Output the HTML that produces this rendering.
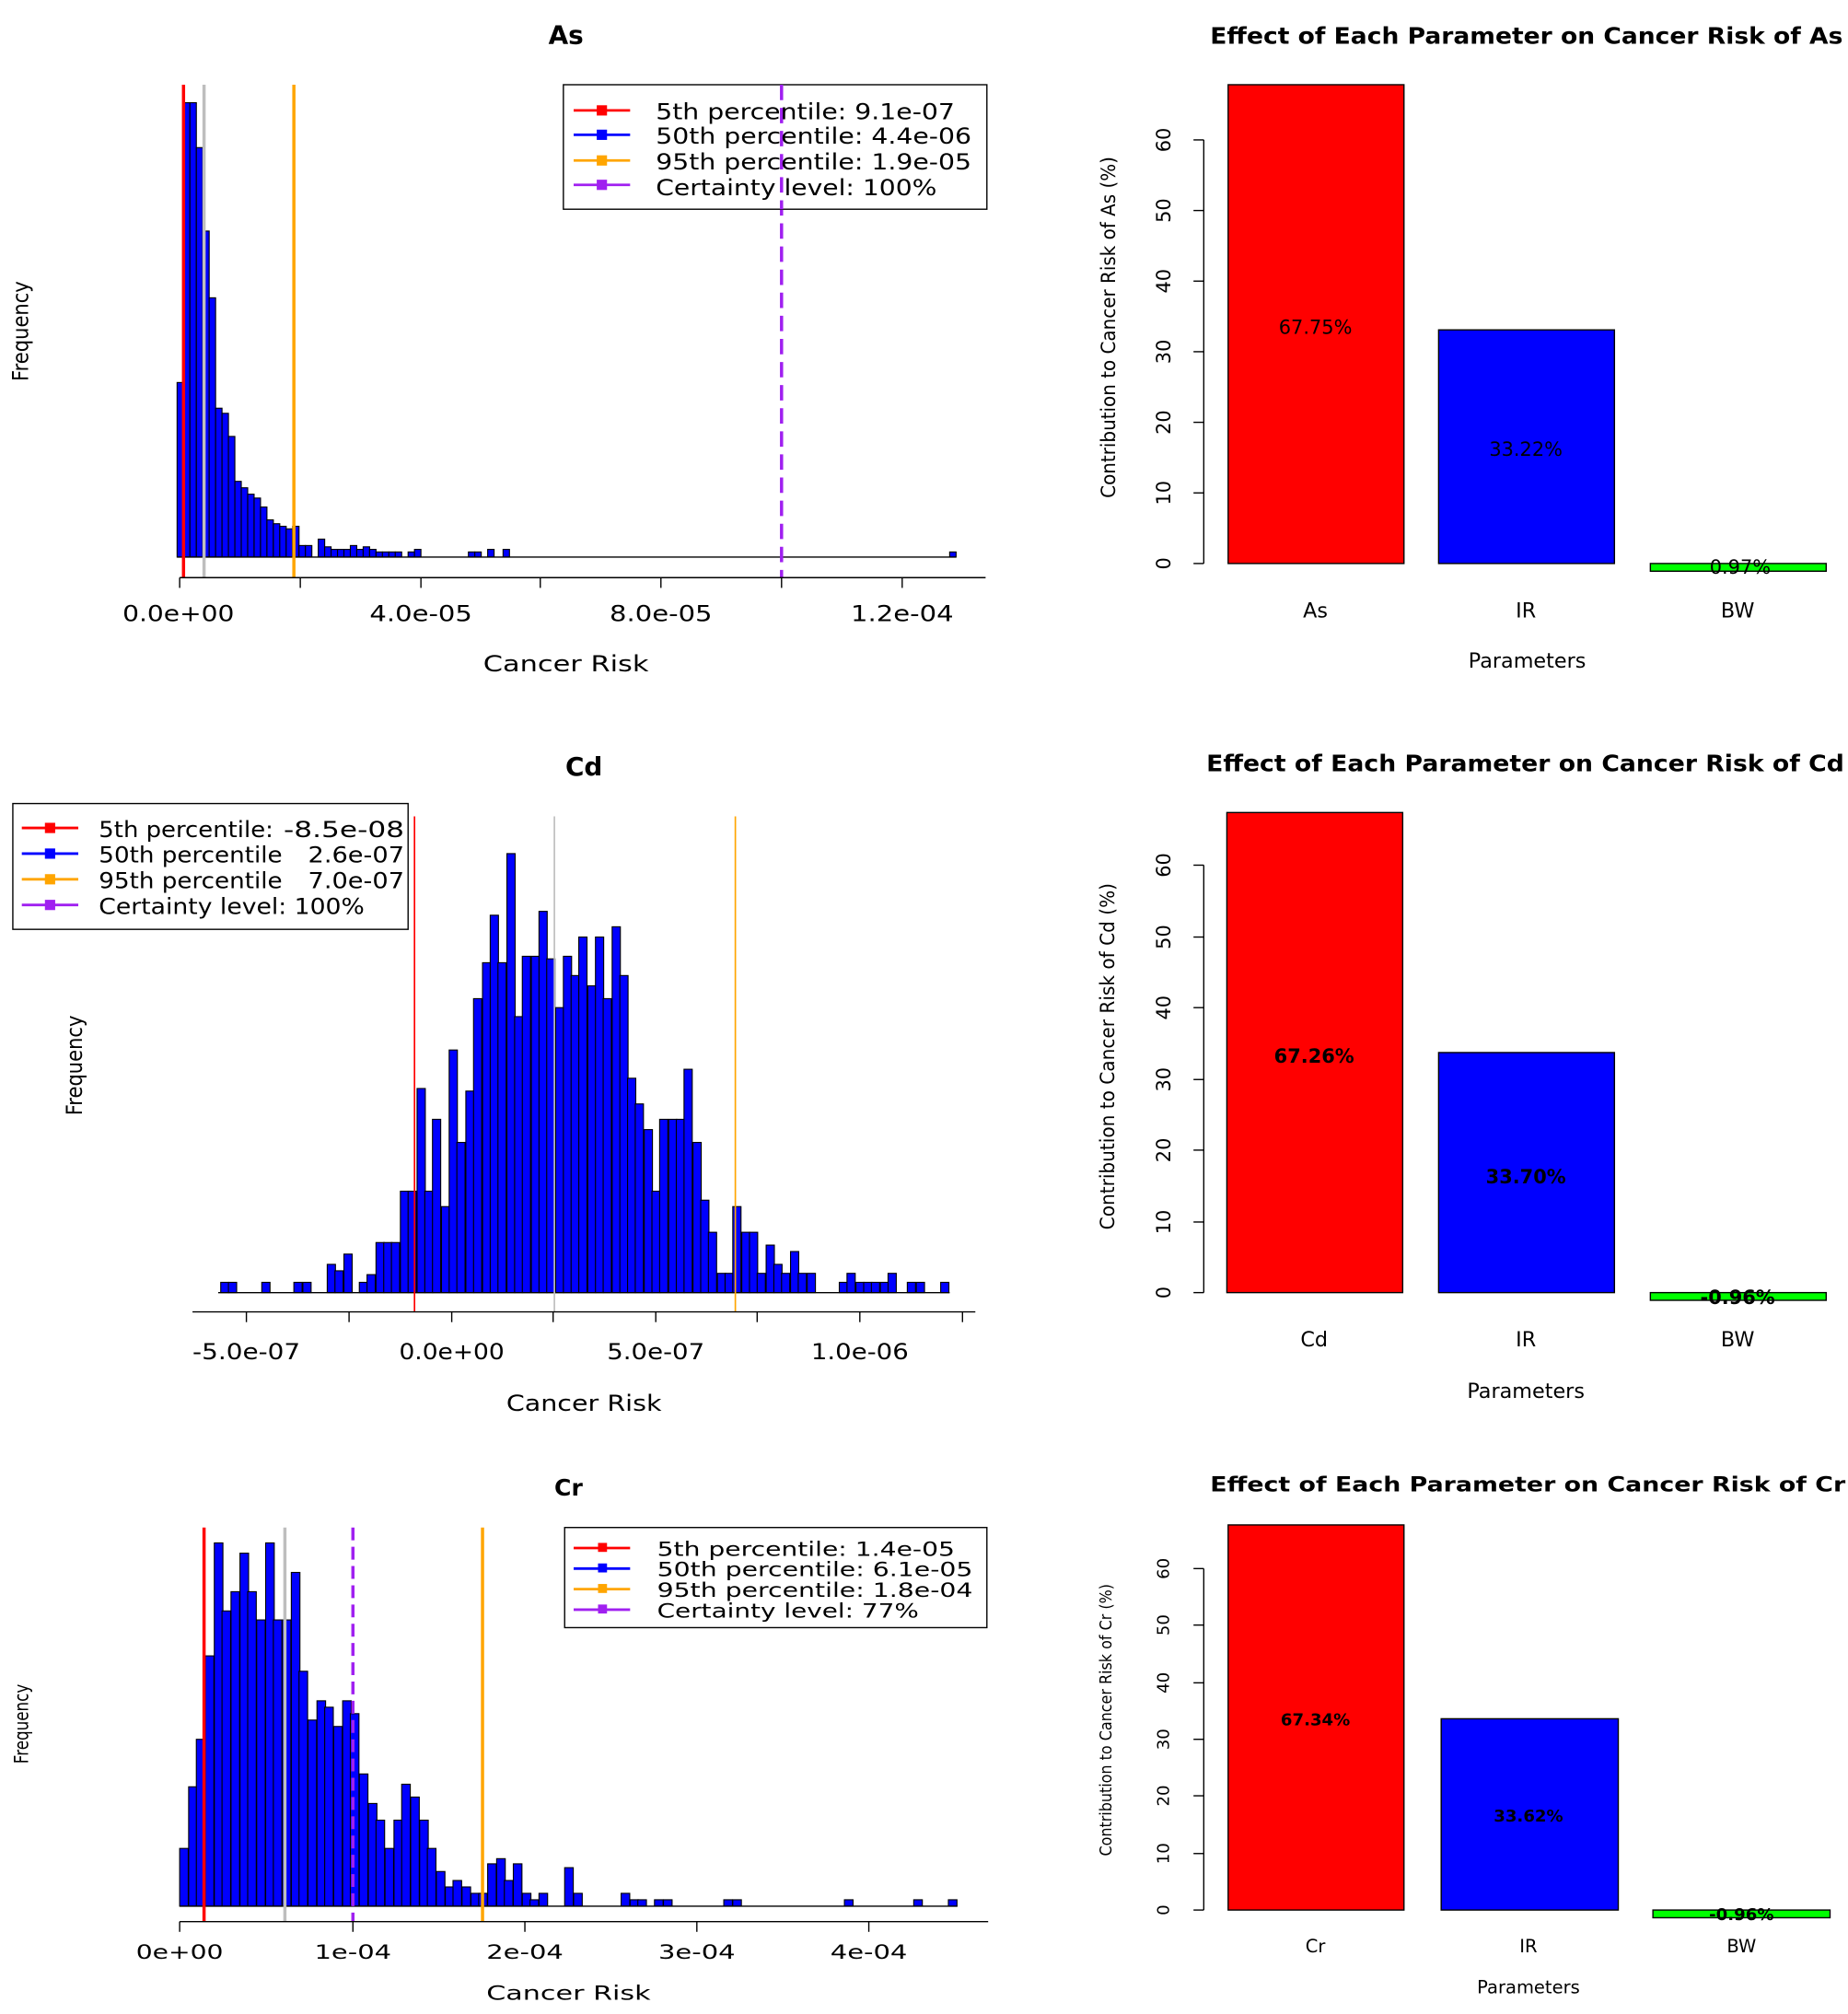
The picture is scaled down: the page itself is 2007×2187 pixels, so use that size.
<!DOCTYPE html>
<html><head><meta charset="utf-8"><style>
html,body{margin:0;padding:0;background:#fff}
svg{display:block}
text{font-family:"DejaVu Sans","Liberation Sans",sans-serif;fill:#000}
.b{fill:#0000ff;stroke:#000;stroke-width:0.8}
</style></head><body>
<svg width="2007" height="2187" viewBox="0 0 1440 1569" preserveAspectRatio="none" xmlns="http://www.w3.org/2000/svg">
<!-- ========== Panel 1: As histogram ========== -->
<text x="441" y="34" font-size="20" font-weight="bold" text-anchor="middle">As</text>
<g class="b">
<rect x="138" y="298" width="5" height="136"/><rect x="143" y="80" width="5" height="354"/><rect x="148" y="80" width="5" height="354"/>
<rect x="153" y="115" width="5" height="319"/><rect x="158" y="180" width="5" height="254"/><rect x="163" y="232" width="5" height="202"/>
<rect x="168" y="318" width="5" height="116"/><rect x="173" y="322" width="5" height="112"/><rect x="178" y="340" width="5" height="94"/>
<rect x="183" y="375" width="5" height="59"/><rect x="188" y="380" width="5" height="54"/><rect x="193" y="385" width="5" height="49"/>
<rect x="198" y="388" width="5" height="46"/><rect x="203" y="395" width="5" height="39"/><rect x="208" y="405" width="5" height="29"/>
<rect x="213" y="408" width="5" height="26"/><rect x="218" y="410" width="5" height="24"/><rect x="223" y="412" width="5" height="22"/>
<rect x="228" y="410" width="5" height="24"/><rect x="233" y="425" width="5" height="9"/><rect x="238" y="425" width="5" height="9"/>
<rect x="248" y="420" width="5" height="14"/><rect x="253" y="426" width="5" height="8"/><rect x="258" y="428" width="5" height="6"/>
<rect x="263" y="428" width="5" height="6"/><rect x="268" y="428" width="5" height="6"/><rect x="273" y="425" width="5" height="9"/>
<rect x="278" y="428" width="5" height="6"/><rect x="283" y="426" width="5" height="8"/><rect x="288" y="428" width="5" height="6"/>
<rect x="293" y="430" width="5" height="4"/><rect x="298" y="430" width="5" height="4"/><rect x="303" y="430" width="5" height="4"/>
<rect x="308" y="430" width="5" height="4"/><rect x="318" y="430" width="5" height="4"/><rect x="323" y="428" width="5" height="6"/>
<rect x="365" y="430" width="5" height="4"/><rect x="370" y="430" width="5" height="4"/><rect x="380" y="428" width="5" height="6"/>
<rect x="392" y="428" width="5" height="6"/><rect x="740" y="430" width="5" height="4"/>
</g>
<line x1="138" y1="434" x2="745" y2="434" stroke="#000" stroke-width="1"/>
<line x1="143" y1="66" x2="143" y2="450" stroke="#f00" stroke-width="2.5"/>
<line x1="159" y1="66" x2="159" y2="450" stroke="#bebebe" stroke-width="2.5"/>
<line x1="229" y1="66" x2="229" y2="450" stroke="#ffa500" stroke-width="2.5"/>
<line x1="609" y1="66" x2="609" y2="450" stroke="#a020f0" stroke-width="2.5" stroke-dasharray="12,6"/>
<g stroke="#000" stroke-width="1">
<line x1="140" y1="450" x2="768" y2="450"/>
<line x1="140" y1="450" x2="140" y2="458"/><line x1="234" y1="450" x2="234" y2="458"/><line x1="328" y1="450" x2="328" y2="458"/>
<line x1="421" y1="450" x2="421" y2="458"/><line x1="515" y1="450" x2="515" y2="458"/><line x1="609" y1="450" x2="609" y2="458"/><line x1="703" y1="450" x2="703" y2="458"/>
</g>
<g font-size="17" text-anchor="middle" lengthAdjust="spacingAndGlyphs">
<text x="139" y="484" textLength="87" lengthAdjust="spacingAndGlyphs">0.0e+00</text><text x="328" y="484" textLength="80" lengthAdjust="spacingAndGlyphs">4.0e-05</text><text x="515" y="484" textLength="80" lengthAdjust="spacingAndGlyphs">8.0e-05</text><text x="703" y="484" textLength="80" lengthAdjust="spacingAndGlyphs">1.2e-04</text>
<text x="441" y="523" textLength="129" lengthAdjust="spacingAndGlyphs">Cancer Risk</text>
</g>
<text transform="translate(22,258) rotate(-90)" font-size="17" text-anchor="middle" textLength="78" lengthAdjust="spacingAndGlyphs">Frequency</text>
<rect x="439" y="66" width="330" height="97" fill="#fff" stroke="#000" stroke-width="1"/>
<g stroke-width="2">
<line x1="447" y1="86" x2="491" y2="86" stroke="#f00"/><rect x="465" y="82" width="8" height="8" fill="#f00"/>
<line x1="447" y1="105" x2="491" y2="105" stroke="#00f"/><rect x="465" y="101" width="8" height="8" fill="#00f"/>
<line x1="447" y1="125" x2="491" y2="125" stroke="#ffa500"/><rect x="465" y="121" width="8" height="8" fill="#ffa500"/>
<line x1="447" y1="144" x2="491" y2="144" stroke="#a020f0"/><rect x="465" y="140" width="8" height="8" fill="#a020f0"/>
</g>
<line x1="609" y1="66" x2="609" y2="163" stroke="#a020f0" stroke-width="2.5" stroke-dasharray="12,6"/>
<g font-size="17"><text x="511" y="93" textLength="233" lengthAdjust="spacingAndGlyphs">5th percentile: 9.1e-07</text><text x="511" y="112" textLength="246" lengthAdjust="spacingAndGlyphs">50th percentile: 4.4e-06</text><text x="511" y="132" textLength="246" lengthAdjust="spacingAndGlyphs">95th percentile: 1.9e-05</text><text x="511" y="152" textLength="219" lengthAdjust="spacingAndGlyphs">Certainty level: 100%</text></g>

<!-- ========== Panel 2: As bar ========== -->
<text x="943" y="34" font-size="18" font-weight="bold" textLength="493" lengthAdjust="spacingAndGlyphs">Effect of Each Parameter on Cancer Risk of As</text>
<rect x="957" y="66" width="137" height="373" fill="#f00" stroke="#000"/>
<rect x="1121" y="257" width="137" height="182" fill="#00f" stroke="#000"/>
<rect x="1286" y="439" width="137" height="6" fill="#00ff00" stroke="#000"/>
<g font-size="15" text-anchor="middle"><text x="1025" y="260">67.75%</text><text x="1189" y="355">33.22%</text><text x="1356" y="447">0.97%</text></g>
<g stroke="#000"><line x1="938" y1="109" x2="938" y2="439"/>
<line x1="930" y1="439" x2="938" y2="439"/><line x1="930" y1="384" x2="938" y2="384"/><line x1="930" y1="329" x2="938" y2="329"/><line x1="930" y1="274" x2="938" y2="274"/><line x1="930" y1="219" x2="938" y2="219"/><line x1="930" y1="164" x2="938" y2="164"/><line x1="930" y1="109" x2="938" y2="109"/></g>
<g font-size="15" text-anchor="middle">
<text transform="translate(912,439) rotate(-90)">0</text><text transform="translate(912,384) rotate(-90)">10</text><text transform="translate(912,329) rotate(-90)">20</text><text transform="translate(912,274) rotate(-90)">30</text><text transform="translate(912,219) rotate(-90)">40</text><text transform="translate(912,164) rotate(-90)">50</text><text transform="translate(912,109) rotate(-90)">60</text>
<text transform="translate(869,255) rotate(-90)" textLength="266" lengthAdjust="spacingAndGlyphs">Contribution to Cancer Risk of As (%)</text>
</g>
<g font-size="16" text-anchor="middle"><text x="1025" y="481">As</text><text x="1189" y="481">IR</text><text x="1354" y="481">BW</text><text x="1190" y="520">Parameters</text></g>

<!-- ========== Panel 3: Cd histogram ========== -->
<text x="455" y="604" font-size="20" font-weight="bold" text-anchor="middle">Cd</text>
<g class="b">
<rect x="172" y="999" width="6.4" height="8"/><rect x="178" y="999" width="6.4" height="8"/><rect x="204" y="999" width="6.4" height="8"/>
<rect x="229" y="999" width="6.4" height="8"/><rect x="236" y="999" width="6.4" height="8"/><rect x="255" y="985" width="6.4" height="22"/>
<rect x="261" y="990" width="6.4" height="17"/><rect x="268" y="977" width="6.4" height="30"/><rect x="280" y="999" width="6.4" height="8"/>
<rect x="286" y="993" width="6.4" height="14"/><rect x="293" y="968" width="6.4" height="39"/><rect x="299" y="968" width="6.4" height="39"/>
<rect x="305" y="968" width="6.4" height="39"/><rect x="312" y="928" width="6.4" height="79"/><rect x="318" y="928" width="6.4" height="79"/>
<rect x="325" y="848" width="6.4" height="159"/><rect x="331" y="928" width="6.4" height="79"/><rect x="337" y="872" width="6.4" height="135"/>
<rect x="344" y="940" width="6.4" height="67"/><rect x="350" y="818" width="6.4" height="189"/><rect x="356" y="890" width="6.4" height="117"/>
<rect x="363" y="850" width="6.4" height="157"/><rect x="369" y="778" width="6.4" height="229"/><rect x="376" y="750" width="6.4" height="257"/>
<rect x="382" y="713" width="6.4" height="294"/><rect x="388" y="750" width="6.4" height="257"/><rect x="395" y="665" width="6.4" height="342"/>
<rect x="401" y="792" width="6.4" height="215"/><rect x="407" y="745" width="6.4" height="262"/><rect x="414" y="745" width="6.4" height="262"/>
<rect x="420" y="710" width="6.4" height="297"/><rect x="426" y="747" width="6.4" height="260"/><rect x="433" y="785" width="6.4" height="222"/>
<rect x="439" y="745" width="6.4" height="262"/><rect x="445" y="760" width="6.4" height="247"/><rect x="451" y="730" width="6.4" height="277"/>
<rect x="458" y="768" width="6.4" height="239"/><rect x="464" y="730" width="6.4" height="277"/><rect x="470" y="778" width="6.4" height="229"/>
<rect x="477" y="722" width="6.4" height="285"/><rect x="483" y="760" width="6.4" height="247"/><rect x="489" y="840" width="6.4" height="167"/>
<rect x="495" y="860" width="6.4" height="147"/><rect x="502" y="880" width="6.4" height="127"/><rect x="508" y="928" width="6.4" height="79"/>
<rect x="514" y="872" width="6.4" height="135"/><rect x="521" y="872" width="6.4" height="135"/><rect x="527" y="872" width="6.4" height="135"/>
<rect x="533" y="833" width="6.4" height="174"/><rect x="540" y="890" width="6.4" height="117"/><rect x="546" y="935" width="6.4" height="72"/>
<rect x="552" y="960" width="6.4" height="47"/><rect x="559" y="992" width="6.4" height="15"/><rect x="565" y="992" width="6.4" height="15"/>
<rect x="571" y="940" width="6.4" height="67"/><rect x="578" y="960" width="6.4" height="47"/><rect x="584" y="960" width="6.4" height="47"/>
<rect x="590" y="992" width="6.4" height="15"/><rect x="597" y="970" width="6.4" height="37"/><rect x="603" y="985" width="6.4" height="22"/>
<rect x="609" y="992" width="6.4" height="15"/><rect x="616" y="975" width="6.4" height="32"/><rect x="622" y="992" width="6.4" height="15"/>
<rect x="629" y="992" width="6.4" height="15"/><rect x="654" y="999" width="6.4" height="8"/><rect x="660" y="992" width="6.4" height="15"/>
<rect x="667" y="999" width="6.4" height="8"/><rect x="673" y="999" width="6.4" height="8"/><rect x="679" y="999" width="6.4" height="8"/>
<rect x="686" y="999" width="6.4" height="8"/><rect x="692" y="992" width="6.4" height="15"/><rect x="707" y="999" width="6.4" height="8"/>
<rect x="714" y="999" width="6.4" height="8"/><rect x="733" y="999" width="6.4" height="8"/>
</g>
<line x1="170" y1="1007" x2="740" y2="1007" stroke="#000"/>
<line x1="323" y1="636" x2="323" y2="1022" stroke="#f00" stroke-width="1.2"/>
<line x1="432" y1="636" x2="432" y2="1022" stroke="#bebebe" stroke-width="1.2"/>
<line x1="573" y1="636" x2="573" y2="1022" stroke="#ffa500" stroke-width="1.2"/>
<g stroke="#000"><line x1="150" y1="1022" x2="760" y2="1022"/>
<line x1="192" y1="1022" x2="192" y2="1030"/><line x1="272" y1="1022" x2="272" y2="1030"/><line x1="352" y1="1022" x2="352" y2="1030"/><line x1="431" y1="1022" x2="431" y2="1030"/><line x1="511" y1="1022" x2="511" y2="1030"/><line x1="590" y1="1022" x2="590" y2="1030"/><line x1="670" y1="1022" x2="670" y2="1030"/><line x1="750" y1="1022" x2="750" y2="1030"/></g>
<g font-size="17" text-anchor="middle">
<text x="192" y="1059" textLength="84" lengthAdjust="spacingAndGlyphs">-5.0e-07</text><text x="352" y="1059" textLength="82" lengthAdjust="spacingAndGlyphs">0.0e+00</text><text x="511" y="1059" textLength="76" lengthAdjust="spacingAndGlyphs">5.0e-07</text><text x="670" y="1059" textLength="76" lengthAdjust="spacingAndGlyphs">1.0e-06</text>
<text x="455" y="1099" textLength="121" lengthAdjust="spacingAndGlyphs">Cancer Risk</text></g>
<text transform="translate(64,830) rotate(-90)" font-size="17" text-anchor="middle" textLength="78" lengthAdjust="spacingAndGlyphs">Frequency</text>
<rect x="10" y="626" width="308" height="98" fill="#fff" stroke="#000"/>
<g stroke-width="2">
<line x1="17" y1="645" x2="61" y2="645" stroke="#f00"/><rect x="35" y="641" width="8" height="8" fill="#f00"/>
<line x1="17" y1="665" x2="61" y2="665" stroke="#00f"/><rect x="35" y="661" width="8" height="8" fill="#00f"/>
<line x1="17" y1="685" x2="61" y2="685" stroke="#ffa500"/><rect x="35" y="681" width="8" height="8" fill="#ffa500"/>
<line x1="17" y1="705" x2="61" y2="705" stroke="#a020f0"/><rect x="35" y="701" width="8" height="8" fill="#a020f0"/>
</g>
<g font-size="17"><text x="77" y="652" textLength="136" lengthAdjust="spacingAndGlyphs">5th percentile:</text><text x="221" y="652" textLength="94" lengthAdjust="spacingAndGlyphs">-8.5e-08</text>
<text x="77" y="672" textLength="143" lengthAdjust="spacingAndGlyphs">50th percentile</text><text x="240" y="672" textLength="75" lengthAdjust="spacingAndGlyphs">2.6e-07</text>
<text x="77" y="692" textLength="143" lengthAdjust="spacingAndGlyphs">95th percentile</text><text x="240" y="692" textLength="75" lengthAdjust="spacingAndGlyphs">7.0e-07</text>
<text x="77" y="712" textLength="207" lengthAdjust="spacingAndGlyphs">Certainty level:  100%</text></g>

<!-- ========== Panel 4: Cd bar ========== -->
<text x="940" y="601" font-size="18" font-weight="bold" textLength="497" lengthAdjust="spacingAndGlyphs">Effect of Each Parameter on Cancer Risk of Cd</text>
<rect x="956" y="633" width="137" height="374" fill="#f00" stroke="#000"/>
<rect x="1121" y="820" width="137" height="187" fill="#00f" stroke="#000"/>
<rect x="1286" y="1007" width="137" height="6" fill="#00ff00" stroke="#000"/>
<g font-size="15" font-weight="bold" text-anchor="middle"><text x="1024" y="828">67.26%</text><text x="1189" y="922">33.70%</text><text x="1354" y="1016">-0.96%</text></g>
<g stroke="#000"><line x1="938" y1="674" x2="938" y2="1007"/>
<line x1="930" y1="1007" x2="938" y2="1007"/><line x1="930" y1="952" x2="938" y2="952"/><line x1="930" y1="896" x2="938" y2="896"/><line x1="930" y1="841" x2="938" y2="841"/><line x1="930" y1="785" x2="938" y2="785"/><line x1="930" y1="730" x2="938" y2="730"/><line x1="930" y1="674" x2="938" y2="674"/></g>
<g font-size="15" text-anchor="middle">
<text transform="translate(912,1007) rotate(-90)">0</text><text transform="translate(912,952) rotate(-90)">10</text><text transform="translate(912,896) rotate(-90)">20</text><text transform="translate(912,841) rotate(-90)">30</text><text transform="translate(912,785) rotate(-90)">40</text><text transform="translate(912,730) rotate(-90)">50</text><text transform="translate(912,674) rotate(-90)">60</text>
<text transform="translate(868,823) rotate(-90)" textLength="270" lengthAdjust="spacingAndGlyphs">Contribution to Cancer Risk of Cd (%)</text></g>
<g font-size="16" text-anchor="middle"><text x="1024" y="1049">Cd</text><text x="1189" y="1049">IR</text><text x="1354" y="1049">BW</text><text x="1189" y="1089">Parameters</text></g>

<!-- ========== Panel 5: Cr histogram ========== -->
<text x="443" y="1165" font-size="18" font-weight="bold" text-anchor="middle">Cr</text>
<g class="b">
<rect x="140" y="1440" width="6.7" height="45"/><rect x="147" y="1392" width="6.7" height="93"/><rect x="153" y="1355" width="6.7" height="130"/>
<rect x="160" y="1290" width="6.7" height="195"/><rect x="167" y="1202" width="6.7" height="283"/><rect x="173" y="1255" width="6.7" height="230"/>
<rect x="180" y="1240" width="6.7" height="245"/><rect x="187" y="1210" width="6.7" height="275"/><rect x="193" y="1240" width="6.7" height="245"/>
<rect x="200" y="1262" width="6.7" height="223"/><rect x="207" y="1202" width="6.7" height="283"/><rect x="213" y="1262" width="6.7" height="223"/>
<rect x="220" y="1262" width="6.7" height="223"/><rect x="227" y="1225" width="6.7" height="260"/><rect x="233" y="1302" width="6.7" height="183"/>
<rect x="240" y="1340" width="6.7" height="145"/><rect x="247" y="1325" width="6.7" height="160"/><rect x="253" y="1330" width="6.7" height="155"/>
<rect x="260" y="1345" width="6.7" height="140"/><rect x="267" y="1325" width="6.7" height="160"/><rect x="273" y="1335" width="6.7" height="150"/>
<rect x="280" y="1382" width="6.7" height="103"/><rect x="287" y="1405" width="6.7" height="80"/><rect x="293" y="1418" width="6.7" height="67"/>
<rect x="300" y="1440" width="6.7" height="45"/><rect x="307" y="1418" width="6.7" height="67"/><rect x="313" y="1390" width="6.7" height="95"/>
<rect x="320" y="1400" width="6.7" height="85"/><rect x="327" y="1418" width="6.7" height="67"/><rect x="333" y="1440" width="6.7" height="45"/>
<rect x="340" y="1458" width="6.7" height="27"/><rect x="347" y="1470" width="6.7" height="15"/><rect x="353" y="1465" width="6.7" height="20"/>
<rect x="360" y="1470" width="6.7" height="15"/><rect x="367" y="1475" width="6.7" height="10"/><rect x="373" y="1475" width="6.7" height="10"/>
<rect x="380" y="1452" width="6.7" height="33"/><rect x="387" y="1448" width="6.7" height="37"/><rect x="393" y="1465" width="6.7" height="20"/>
<rect x="400" y="1452" width="6.7" height="33"/><rect x="407" y="1475" width="6.7" height="10"/><rect x="413" y="1480" width="6.7" height="5"/>
<rect x="420" y="1475" width="6.7" height="10"/><rect x="440" y="1455" width="6.7" height="30"/><rect x="447" y="1475" width="6.7" height="10"/>
<rect x="484" y="1475" width="6.7" height="10"/><rect x="491" y="1480" width="6.7" height="5"/><rect x="497" y="1480" width="6.7" height="5"/>
<rect x="510" y="1480" width="6.7" height="5"/><rect x="517" y="1480" width="6.7" height="5"/><rect x="564" y="1480" width="6.7" height="5"/>
<rect x="571" y="1480" width="6.7" height="5"/><rect x="658" y="1480" width="6.7" height="5"/><rect x="712" y="1480" width="6.7" height="5"/>
<rect x="739" y="1480" width="6.7" height="5"/>
</g>
<line x1="140" y1="1485" x2="746" y2="1485" stroke="#000"/>
<line x1="159" y1="1190" x2="159" y2="1497" stroke="#f00" stroke-width="2.5"/>
<line x1="222" y1="1190" x2="222" y2="1497" stroke="#bebebe" stroke-width="2.5"/>
<line x1="275" y1="1190" x2="275" y2="1497" stroke="#a020f0" stroke-width="2.5" stroke-dasharray="10,5"/>
<line x1="376" y1="1190" x2="376" y2="1497" stroke="#ffa500" stroke-width="2.5"/>
<g stroke="#000"><line x1="140" y1="1497" x2="770" y2="1497"/>
<line x1="140" y1="1497" x2="140" y2="1505"/><line x1="275" y1="1497" x2="275" y2="1505"/><line x1="409" y1="1497" x2="409" y2="1505"/><line x1="543" y1="1497" x2="543" y2="1505"/><line x1="677" y1="1497" x2="677" y2="1505"/></g>
<g font-size="15" text-anchor="middle">
<text x="140" y="1526" textLength="68" lengthAdjust="spacingAndGlyphs">0e+00</text><text x="275" y="1526" textLength="60" lengthAdjust="spacingAndGlyphs">1e-04</text><text x="409" y="1526" textLength="60" lengthAdjust="spacingAndGlyphs">2e-04</text><text x="543" y="1526" textLength="60" lengthAdjust="spacingAndGlyphs">3e-04</text><text x="677" y="1526" textLength="60" lengthAdjust="spacingAndGlyphs">4e-04</text>
<text x="443" y="1558" textLength="128" lengthAdjust="spacingAndGlyphs">Cancer Risk</text></g>
<text transform="translate(22,1343) rotate(-90)" font-size="15" text-anchor="middle" textLength="62" lengthAdjust="spacingAndGlyphs">Frequency</text>
<rect x="440" y="1190" width="329" height="78" fill="#fff" stroke="#000"/>
<g stroke-width="2">
<line x1="447" y1="1206" x2="491" y2="1206" stroke="#f00"/><rect x="466" y="1202" width="7" height="7" fill="#f00"/>
<line x1="447" y1="1222" x2="491" y2="1222" stroke="#00f"/><rect x="466" y="1218" width="7" height="7" fill="#00f"/>
<line x1="447" y1="1238" x2="491" y2="1238" stroke="#ffa500"/><rect x="466" y="1234" width="7" height="7" fill="#ffa500"/>
<line x1="447" y1="1254" x2="491" y2="1254" stroke="#a020f0"/><rect x="466" y="1250" width="7" height="7" fill="#a020f0"/>
</g>
<g font-size="15"><text x="512" y="1212" textLength="232" lengthAdjust="spacingAndGlyphs">5th percentile: 1.4e-05</text><text x="512" y="1228" textLength="246" lengthAdjust="spacingAndGlyphs">50th percentile: 6.1e-05</text><text x="512" y="1244" textLength="246" lengthAdjust="spacingAndGlyphs">95th percentile: 1.8e-04</text><text x="512" y="1260" textLength="204" lengthAdjust="spacingAndGlyphs">Certainty level: 77%</text></g>

<!-- ========== Panel 6: Cr bar ========== -->
<text x="943" y="1162" font-size="16" font-weight="bold" textLength="495" lengthAdjust="spacingAndGlyphs">Effect of Each Parameter on Cancer Risk of Cr</text>
<rect x="957" y="1188" width="137" height="300" fill="#f00" stroke="#000"/>
<rect x="1123" y="1339" width="138" height="149" fill="#00f" stroke="#000"/>
<rect x="1288" y="1488" width="138" height="6" fill="#00ff00" stroke="#000"/>
<g font-size="13" font-weight="bold" text-anchor="middle"><text x="1025" y="1344">67.34%</text><text x="1191" y="1419">33.62%</text><text x="1357" y="1496">-0.96%</text></g>
<g stroke="#000"><line x1="938" y1="1222" x2="938" y2="1488"/>
<line x1="930" y1="1488" x2="938" y2="1488"/><line x1="930" y1="1444" x2="938" y2="1444"/><line x1="930" y1="1399" x2="938" y2="1399"/><line x1="930" y1="1355" x2="938" y2="1355"/><line x1="930" y1="1311" x2="938" y2="1311"/><line x1="930" y1="1266" x2="938" y2="1266"/><line x1="930" y1="1222" x2="938" y2="1222"/></g>
<g font-size="13" text-anchor="middle">
<text transform="translate(911,1488) rotate(-90)">0</text><text transform="translate(911,1444) rotate(-90)">10</text><text transform="translate(911,1399) rotate(-90)">20</text><text transform="translate(911,1355) rotate(-90)">30</text><text transform="translate(911,1311) rotate(-90)">40</text><text transform="translate(911,1266) rotate(-90)">50</text><text transform="translate(911,1222) rotate(-90)">60</text>
<text transform="translate(866,1340) rotate(-90)" textLength="212" lengthAdjust="spacingAndGlyphs">Contribution to Cancer Risk of Cr (%)</text></g>
<g font-size="14" text-anchor="middle"><text x="1025" y="1521">Cr</text><text x="1191" y="1521">IR</text><text x="1357" y="1521">BW</text><text x="1191" y="1553">Parameters</text></g>
</svg>
</body></html>
